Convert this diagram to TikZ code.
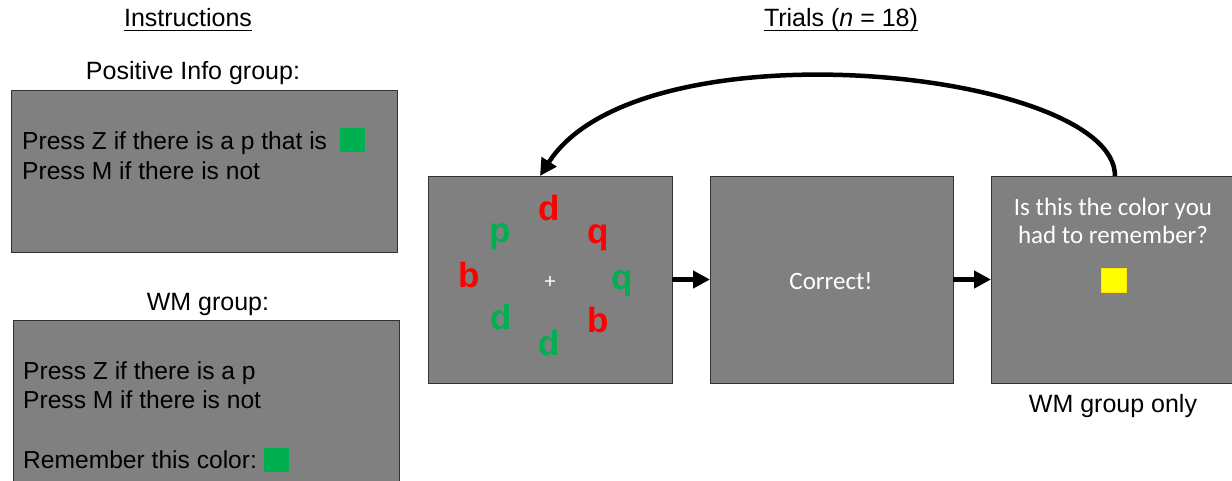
\documentclass[tikz,border=0pt]{standalone}
\usepackage{fontspec}
\setmainfont{Liberation Sans}
\newfontfamily\calfont{Carlito}
\usetikzlibrary{arrows.meta}
\definecolor{scrgray}{HTML}{808080}
\definecolor{pgreen}{HTML}{00B050}
\definecolor{pred}{HTML}{FF0000}
\definecolor{pyellow}{HTML}{FFFF00}
\begin{document}
\begin{tikzpicture}[x=1pt,y=-1pt,
  screen/.style={draw=black!80,line width=0.9pt,fill=scrgray,inner sep=0pt,outer sep=0pt},
  lbl/.style={inner sep=0pt,font=\fontsize{25}{30}\selectfont},
  body/.style={inner sep=0pt,anchor=base west,font=\fontsize{24.6}{30}\selectfont},
  wtxt/.style={inner sep=0pt,text=white,font=\calfont\fontsize{25}{28}\selectfont},
  letR/.style={inner sep=0pt,anchor=base,text=pred,font=\fontsize{35}{35}\selectfont\bfseries},
  letG/.style={inner sep=0pt,anchor=base,text=pgreen,font=\fontsize{35}{35}\selectfont\bfseries},
  swatch/.style={inner sep=0pt,minimum width=25pt,minimum height=24pt},
  arr/.style={line width=4.5pt,-{Triangle[length=17pt,width=17pt]}}]
\useasboundingbox (0,0) rectangle (1232,480);

% headings
\node[lbl,anchor=base] (hins) at (188,26) {Instructions};
\draw[line width=1pt] ([yshift=-4pt]hins.base west) -- ([yshift=-4pt]hins.base east);
\node[lbl,anchor=base] (htri) at (841,26) {Trials (\textit{n} = 18)};
\draw[line width=1pt] ([yshift=-4pt]htri.base west) -- ([yshift=-4pt]htri.base east);

% instruction screens
\node[lbl,anchor=base] (gpos) at (193,79) {Positive Info group:};
\node[screen,minimum width=386pt,minimum height=162pt] (bpos) at (204,171) {};
\node[body] (p1) at (22,149) {Press Z if there is a p that is};
\node[body] (p2) at (22,179) {Press M if there is not};
\node[swatch,fill=pgreen] (sq1) at (352,139.5) {};

\node[lbl,anchor=base] (gwm) at (208,310) {WM group:};
\node[screen,minimum width=386pt,minimum height=180pt] (bwm) at (206,410) {};
\node[body] (w1) at (23,379) {Press Z if there is a p};
\node[body] (w2) at (23,408) {Press M if there is not};
\node[body] (w3) at (23,468) {Remember this color:};
\node[swatch,fill=pgreen] (sq2) at (276.5,460) {};

% trial screens
\node[screen,minimum width=244pt,minimum height=207pt] (t1) at (550,279.5) {};
\node[screen,minimum width=243pt,minimum height=207pt] (t2) at (831.5,279.5) {};
\node[screen,minimum width=241pt,minimum height=207pt] (t3) at (1111.5,279.5) {};

% letters
\node[letR] (l1) at (549,220) {d};
\node[letG] (l2) at (500,242) {p};
\node[letR] (l3) at (598,243) {q};
\node[letR] (l4) at (469,287) {b};
\node[letG] (l5) at (622,289) {q};
\node[letG] (l6) at (501,329) {d};
\node[letR] (l7) at (598,332) {b};
\node[letG] (l8) at (549,355) {d};
\node[wtxt,font=\calfont\fontsize{22}{22}\selectfont] (fix) at (550,282) {+};

\node[wtxt] (corr) at (831,281) {Correct!};
\node[wtxt,align=center,anchor=base] (q1) at (1113,215) {Is this the color you};
\node[wtxt,align=center,anchor=base] (q2) at (1113,243) {had to remember?};
\node[swatch,fill=pyellow,draw=pyellow!80!orange,line width=0.6pt] (ysq) at (1113.5,280) {};
\node[lbl,anchor=base] (wmo) at (1113,412) {WM group only};

% connectors
\draw[arr] (t1.east) -- (t2.west);
\draw[arr] (t2.east) -- (t3.west);
\draw[arr] ([xshift=124pt]t3.north west) .. controls +(0,-106) and +(100,-156) .. ([xshift=112pt]t1.north west);
\end{tikzpicture}
\end{document}
